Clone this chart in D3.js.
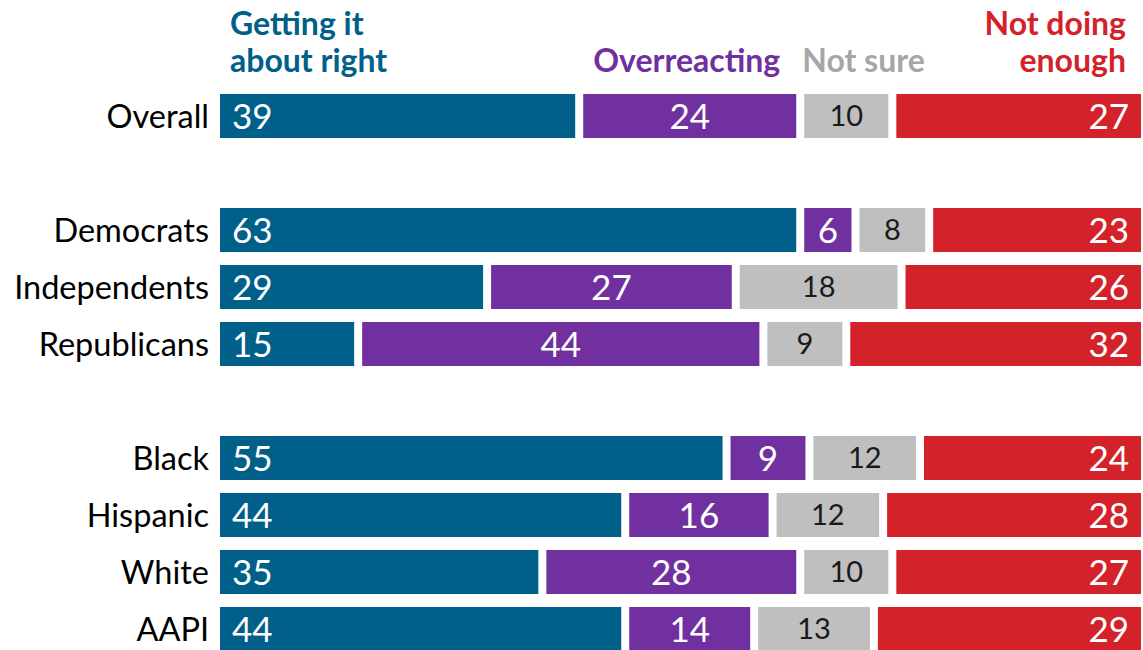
<!DOCTYPE html>
<html><head><meta charset="utf-8">
<script src="https://cdn.jsdelivr.net/npm/d3@7"></script>
<style>body{margin:0;background:#fff;}svg{display:block;font-family:Lato,"Open Sans",sans-serif;}</style>
</head><body><svg id="c" width="1143" height="650"></svg>
<script>
const slots = ["Overall","_gap1","Democrats","Independents","Republicans","_gap2","Black","Hispanic","White","AAPI"];
const categories = ["Overall","Democrats","Independents","Republicans","Black","Hispanic","White","AAPI"];
const seriesNames = ["Getting it about right","Overreacting","Not sure","Not doing enough"];
const aboutRight   = [39,63,29,15,55,44,35,44];
const overreacting = [24,6,27,44,9,16,28,14];
const notSure      = [10,8,18,9,12,12,10,13];
const notEnough    = [27,23,26,32,24,28,27,29];
const colors = ["#00608a","#7030a0","#bfbfbf","#d3222a"];
const headerColors = ["#00608a","#7030a0","#a6a6a6","#d3222a"];
const labelColors = ["#fff","#fff","#1a1a1a","#fff"];

const svg = d3.select("#c");
const x = d3.scaleLinear().domain([0,100]).range([220,1141]);
const y = d3.scaleBand().domain(slots).range([87.5,657.5]).paddingInner(0.228).paddingOuter(0.114);
const gap = 8;
const series = [aboutRight, overreacting, notSure, notEnough];

const rows = categories.map((c,i)=>{
  let cum = 0;
  const segs = series.map((s,k)=>{
    const v = s[i]; const seg = {k, v, x0: cum, x1: cum+v}; cum += v; return seg;
  });
  return {c, segs};
});

// category labels
svg.append("g").selectAll("text").data(categories).join("text")
  .attr("x", 209).attr("y", d=>y(d)+y.bandwidth()/2).attr("dy","0.36em")
  .attr("text-anchor","end").attr("font-size",32.5).attr("fill","#000").text(d=>d);

const g = svg.append("g").selectAll("g").data(rows).join("g")
  .attr("transform", d=>`translate(0,${y(d.c)})`);

g.selectAll("rect").data(d=>d.segs).join("rect")
  .attr("x", d=> d.k===0 ? x(d.x0) : x(d.x0)+gap/2)
  .attr("width", d=> {
    const a = d.k===0 ? x(d.x0) : x(d.x0)+gap/2;
    const b = d.k===3 ? x(d.x1) : x(d.x1)-gap/2;
    return b-a;})
  .attr("y",0).attr("height", y.bandwidth())
  .attr("fill", d=>colors[d.k]);

g.selectAll("text").data(d=>d.segs).join("text")
  .attr("x", d=> d.k===0 ? x(d.x0)+12 : d.k===3 ? x(d.x1)-12 : (x(d.x0)+x(d.x1))/2)
  .attr("text-anchor", d=> d.k===0 ? "start" : d.k===3 ? "end" : "middle")
  .attr("y", y.bandwidth()/2).attr("dy","0.36em")
  .attr("font-size", d=> d.k===2 ? 29 : 35)
  .attr("fill", d=>labelColors[d.k])
  .text(d=>d.v);

// headers
const ov = rows[0].segs;
const headers = [
  {k:0, lines:["Getting it","about right"], x: x(ov[0].x0)+10, anchor:"start"},
  {k:1, lines:["Overreacting"], x: (x(ov[1].x0)+x(ov[1].x1))/2-3, anchor:"middle"},
  {k:2, lines:["Not sure"], x: x(ov[2].x0)+gap/2-2, anchor:"start"},
  {k:3, lines:["Not doing","enough"], x: x(ov[3].x1)-15, anchor:"end"}
];
const hg = svg.append("g").selectAll("text").data(headers).join("text")
  .attr("text-anchor", d=>d.anchor).attr("font-size",32).attr("font-weight",700)
  .attr("fill", d=>headerColors[d.k]);
hg.selectAll("tspan").data(d=>d.lines.map((l,i,a)=>({l, x:d.x, yy: 72 - (a.length-1-i)*37}))).join("tspan")
  .attr("x", d=>d.x).attr("y", d=>d.yy).text(d=>d.l);
</script></body></html>
